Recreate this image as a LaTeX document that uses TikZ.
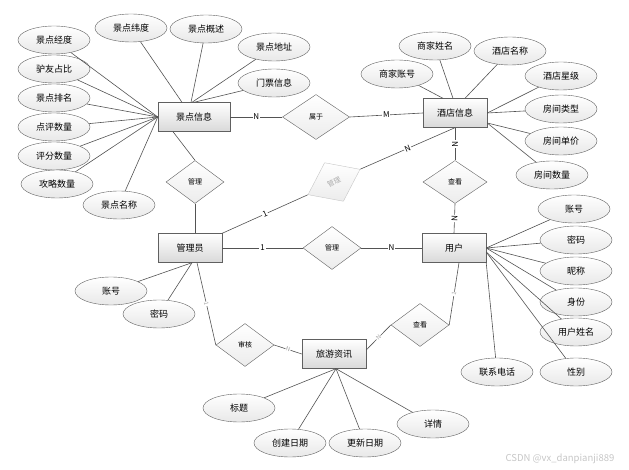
\documentclass[tikz,border=0pt]{standalone}
\usepackage{fontspec}
\newfontfamily\cjk{Noto Sans CJK SC}
\usetikzlibrary{shapes.geometric}

\begin{document}
\begin{tikzpicture}[
x=1pt, y=-1pt,
entity/.style={rectangle, draw=gray!75!black, top color=white, bottom color=gray!30, minimum width=64pt, minimum height=29pt, font=\cjk\fontsize{9}{10}\selectfont},
attr/.style={ellipse, draw=gray!75!black, top color=white, bottom color=gray!18, minimum width=72pt, minimum height=28pt, inner sep=0pt, font=\cjk\fontsize{9}{10}\selectfont},
rel/.style={diamond, draw=gray!75!black, top color=white, bottom color=gray!15, minimum width=58pt, minimum height=43pt, inner sep=0pt, font=\cjk\fontsize{7}{8}\selectfont},
faded/.style={draw=gray!45, top color=white, bottom color=gray!15, text=gray!65},
link/.style={draw=gray!65!black, line width=0.6pt},
card/.style={fill=white, inner sep=0.8pt, font=\cjk\fontsize{8}{9}\selectfont},
tiny card/.style={fill=white, inner sep=0.5pt, sloped, text=gray!70, font=\cjk\fontsize{6}{7}\selectfont},
]
\useasboundingbox (0,0) rectangle (629,470);

% entities
\node[entity, minimum width=72pt] (jd) at (194,117) {景点信息};
\node[entity] (ht) at (455,113) {酒店信息};
\node[entity] (admin) at (190,248) {管理员};
\node[entity] (user) at (454,248) {用户};
\node[entity] (news) at (334,354) {旅游资讯};

% relations
\node[rel, minimum width=67pt, minimum height=45pt] (sy) at (316,117) {属于};
\node[rel] (gl1) at (195,182) {管理};
\node[rel, faded, rotate=26] (gl0) at (334,182) {管理};
\node[rel, minimum width=64pt] (ck1) at (455,182) {查看};
\node[rel] (gl2) at (332,248) {管理};
\node[rel] (ck2) at (420,325) {查看};
\node[rel] (sh) at (245,345) {审核};

% attributes of jd
\node[attr] (jdjd) at (54,40) {景点经度};
\node[attr] (jdwd) at (131,28) {景点纬度};
\node[attr] (jdgs) at (206,29) {景点概述};
\node[attr] (jddz) at (274,47) {景点地址};
\node[attr] (jdmp) at (274,83) {门票信息};
\node[attr] (jdly) at (54,69) {驴友占比};
\node[attr] (jdpm) at (54,98) {景点排名};
\node[attr] (jddp) at (54,127) {点评数量};
\node[attr] (jdpf) at (54,156) {评分数量};
\node[attr] (jdgl) at (57,184) {攻略数量};
\node[attr] (jdmc) at (119,205) {景点名称};

\draw[link] (jdjd) -- (jd.west);
\draw[link] (jdly) -- (jd.west);
\draw[link] (jdpm) -- (jd.west);
\draw[link] (jddp) -- (jd.west);
\draw[link] (jdpf) -- (jd.west);
\draw[link] (jdgl) -- (jd.west);
\draw[link] (jdmc) -- (jd.west);
\draw[link] (jdwd) -- ([xshift=-12pt]jd.north);
\draw[link] (jdgs) -- ([xshift=-3pt]jd.north);
\draw[link] (jddz) -- ([xshift=-2pt]jd.north);
\draw[link] (jdmp) -- ([xshift=0pt]jd.north);

% attributes of ht
\node[attr] (htzh) at (397,74) {商家账号};
\node[attr] (htxm) at (435,46) {商家姓名};
\node[attr] (htmc) at (510,51) {酒店名称};
\node[attr] (htxj) at (561,76) {酒店星级};
\node[attr] (htlx) at (561,109) {房间类型};
\node[attr] (htdj) at (561,141) {房间单价};
\node[attr] (htsl) at (552,175) {房间数量};

\draw[link] (htzh) -- ([xshift=-12pt]ht.north);
\draw[link] (htxm) -- ([xshift=-2pt]ht.north);
\draw[link] (htmc) -- ([xshift=10pt]ht.north);
\draw[link] (htxj) -- (ht.east);
\draw[link] (htlx) -- (ht.east);
\draw[link] (htdj) -- ([yshift=-10pt]ht.east);
\draw[link] (htsl) -- ([yshift=-10pt]ht.east);

% attributes of user
\node[attr] (uzh) at (574,209) {账号};
\node[attr] (umm) at (576,240) {密码};
\node[attr] (unc) at (576,271) {昵称};
\node[attr] (usf) at (576,302) {身份};
\node[attr] (uxm) at (576,332) {用户姓名};
\node[attr] (uxb) at (576,372) {性别};
\node[attr] (udh) at (497,372) {联系电话};

\draw[link] (uzh) -- (user.east);
\draw[link] (umm) -- (user.east);
\draw[link] (unc) -- (user.east);
\draw[link] (usf) -- (user.east);
\draw[link] (uxm) -- ([yshift=-4pt]user.east);
\draw[link] (uxb) -- ([yshift=-4pt]user.east);
\draw[link] (udh) -- (user.south east);

% attributes of admin
\node[attr] (azh) at (111,291) {账号};
\node[attr] (amm) at (159,314) {密码};

\draw[link] (azh) -- ([xshift=2pt]admin.south);
\draw[link] (amm) -- ([xshift=2pt]admin.south);

% attributes of news
\node[attr] (nbt) at (239,408) {标题};
\node[attr] (ncj) at (290,443) {创建日期};
\node[attr] (ngx) at (365,443) {更新日期};
\node[attr] (nxq) at (433,424) {详情};

\draw[link] (nbt) -- ([xshift=2pt]news.south);
\draw[link] (ncj) -- ([xshift=2pt]news.south);
\draw[link] (ngx) -- ([xshift=2pt]news.south);
\draw[link] (nxq) -- ([xshift=2pt]news.south);

% relations
\draw[link] (jd.east) -- node[card] {N} (sy.west);
\draw[link] (sy.east) -- node[card] {M} (ht.west);
\draw[link] (ht.south) -- node[card, sloped] {N} (ck1.north);
\draw[link] (ck1.south) -- node[card, sloped] {N} (user.north);
\draw[link] ([xshift=-21pt]jd.south) -- (gl1.north);
\draw[link] (gl1.south) -- (gl1.south |- admin.north);
\draw[link] (admin.east) -- node[card] {1} (gl2.west);
\draw[link] (gl2.east) -- node[card] {N} (user.west);
\draw[link] (admin.north east) -- node[card, sloped] {1} (gl0.west);
\draw[link] (gl0.east) -- node[card, sloped] {N} (ht.south);
\draw[link] ([xshift=7pt]admin.south) -- node[tiny card] {1} (sh.west);
\draw[link] (sh.east) -- node[tiny card] {N} (news.west);
\draw[link] ([xshift=5pt]user.south) -- node[tiny card] {1} (ck2.east);
\draw[link] (ck2.west) -- node[tiny card] {N} ([yshift=4pt]news.east);

\node[text=gray!45, font=\cjk\fontsize{9.5}{11}\selectfont] (mark) at (560,459) {CSDN @vx\_danpianji889};
\end{tikzpicture}
\end{document}
